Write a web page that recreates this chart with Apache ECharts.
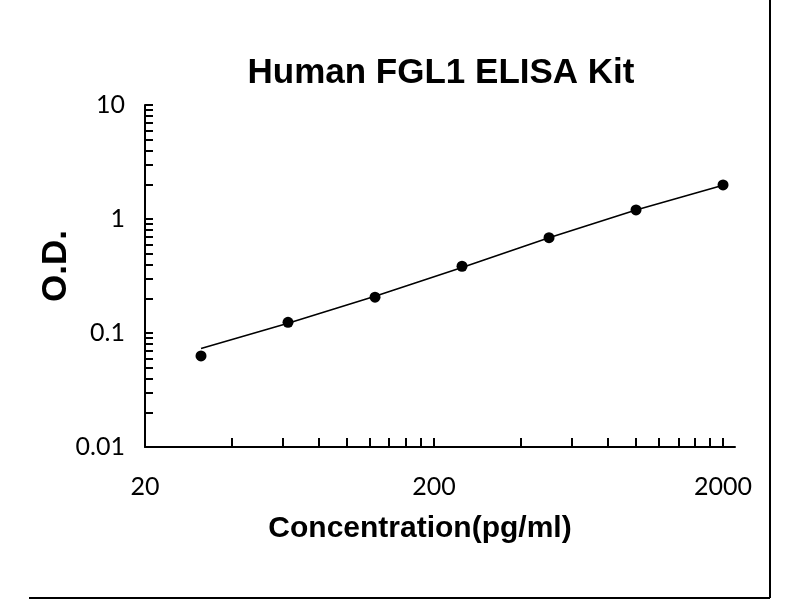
<!DOCTYPE html>
<html>
<head>
<meta charset="utf-8">
<script src="https://cdn.jsdelivr.net/npm/echarts@6/dist/echarts.min.js"></script>
<style>
  html, body { margin: 0; padding: 0; background: #fff; }
  #chart { width: 800px; height: 600px; }
</style>
</head>
<body>
<div id="chart"></div>
<script>
// standard concentrations (pg/ml) and measured O.D.
var concentrations = [31.25, 62.5, 125, 250, 500, 1000, 2000];
var odValues = [0.063, 0.124, 0.206, 0.385, 0.685, 1.2, 1.99];
// curve fit
var fitValues = [0.073, 0.122, 0.21, 0.375, 0.685, 1.2, 1.98];

// axis labels and tick marks
var xLabels = [20, 200, 2000];
var xTicks = [20, 40, 60, 80, 100, 120, 140, 160, 180, 200,
              400, 600, 800, 1000, 1200, 1400, 1600, 1800, 2000];
var yLabels = [0.01, 0.1, 1, 10];
var yTicks = [0.01, 0.02, 0.03, 0.04, 0.05, 0.06, 0.07, 0.08, 0.09,
              0.1, 0.2, 0.3, 0.4, 0.5, 0.6, 0.7, 0.8, 0.9,
              1, 2, 3, 4, 5, 6, 7, 8, 9, 10];

var boldFont = '"Liberation Sans", Arial, sans-serif';

var chart = echarts.init(document.getElementById('chart'));

chart.setOption({
    animation: false,
    backgroundColor: '#fff',
    title: {
        text: 'Human FGL1 ELISA Kit',
        left: 436,
        top: 51,
        textAlign: 'center',
        textStyle: {
            fontFamily: boldFont,
            fontWeight: 'bold',
            fontSize: 35,
            color: '#000'
        }
    },
    grid: {
        left: 145,
        right: 65,
        top: 105,
        bottom: 153
    },
    xAxis: {
        type: 'log',
        logBase: 10,
        min: 20,
        max: 2200,
        name: 'Concentration(pg/ml)',
        nameLocation: 'middle',
        nameGap: 67,
        nameMoveOverlap: false,
        nameTextStyle: {
            fontFamily: boldFont,
            fontWeight: 'bold',
            fontSize: 30,
            color: '#000',
            padding: [0, 40, 0, 0]
        },
        axisLine: { lineStyle: { color: '#000', width: 2 } },
        axisTick: {
            inside: true,
            length: 9,
            customValues: xTicks,
            lineStyle: { color: '#000', width: 2 }
        },
        axisLabel: {
            customValues: xLabels,
            margin: 27,
            fontFamily: 'Lato',
            fontSize: 25,
            color: '#000',
            formatter: function (v) { return String(v); }
        },
        splitLine: { show: false }
    },
    yAxis: {
        type: 'log',
        logBase: 10,
        min: 0.01,
        max: 10,
        name: 'O.D.',
        nameLocation: 'middle',
        nameGap: 71,
        nameMoveOverlap: false,
        nameTextStyle: {
            fontFamily: boldFont,
            fontWeight: 'bold',
            fontSize: 35,
            color: '#000',
            padding: [0, 0, 0, 20]
        },
        axisLine: { lineStyle: { color: '#000', width: 2 } },
        axisTick: {
            inside: true,
            length: 8,
            customValues: yTicks,
            lineStyle: { color: '#000', width: 2 }
        },
        axisLabel: {
            customValues: yLabels,
            margin: 20,
            fontFamily: 'Lato',
            fontSize: 25,
            color: '#000',
            formatter: function (v) { return String(v); }
        },
        splitLine: { show: false }
    },
    graphic: [
        // picture frame: right and bottom edges
        { type: 'line', shape: { x1: 770, y1: 0, x2: 770, y2: 598 }, style: { stroke: '#000', lineWidth: 2 } },
        { type: 'line', shape: { x1: 29, y1: 598, x2: 770, y2: 598 }, style: { stroke: '#000', lineWidth: 2 } }
    ],
    series: [
        {
            name: 'fit',
            type: 'line',
            showSymbol: false,
            symbol: 'none',
            data: concentrations.map(function (c, i) { return [c, fitValues[i]]; }),
            lineStyle: { color: '#000', width: 1.6 },
            z: 2
        },
        {
            name: 'O.D.',
            type: 'scatter',
            symbolSize: 11,
            data: concentrations.map(function (c, i) { return [c, odValues[i]]; }),
            itemStyle: { color: '#000', opacity: 1 },
            z: 3
        }
    ]
});
</script>
</body>
</html>
